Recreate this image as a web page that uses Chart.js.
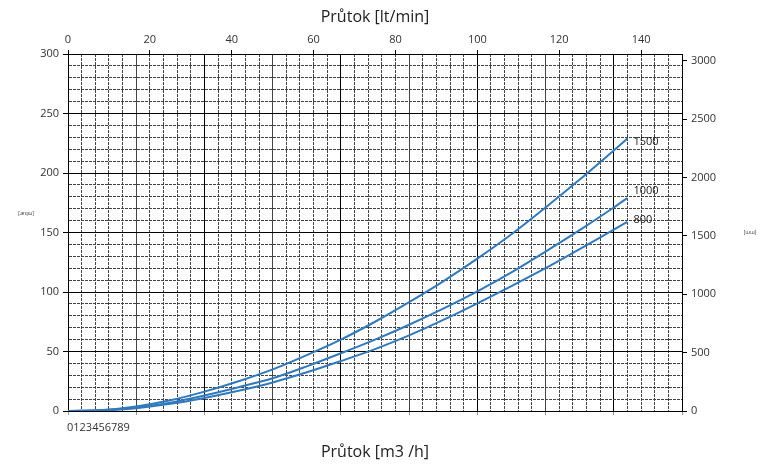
<!DOCTYPE html>
<html>
<head>
<meta charset="utf-8">
<script src="https://cdn.jsdelivr.net/npm/chart.js@4"></script>
<style>
  body { margin: 0; background: #fff; }
  canvas { display: block; }
</style>
</head>
<body>
<canvas id="flowChart" width="767" height="465"></canvas>
<script>
// Průtok v m3/h (spodní osa)
const flowM3h = [0, 0.5, 1, 1.5, 2, 2.5, 3, 3.5, 4, 4.5, 5, 5.5, 6, 6.5, 7, 7.5, 8, 8.2];
// Tlaková ztráta [mbar] pro jednotlivé křivky
const loss1500 = [0, 0.8, 3.8, 9, 16.3, 25, 35, 47, 60, 75, 91.5, 109, 128, 148.5, 171, 194.5, 219, 229];
const loss1000 = [0, 0.6, 3, 7, 13, 20, 27.5, 37.5, 48.5, 60, 72.5, 86, 100.5, 116.5, 134, 152, 171, 179];
const loss800  = [0, 0.4, 2.4, 6, 11, 17, 24, 32.5, 42, 52, 63.5, 76.5, 90.5, 105, 120, 136, 152.5, 159];
const curveLabels = ["1500", "1000", "800"];
const bottomTickLabels = ["0", "1", "2", "3", "4", "5", "6", "7", "8", "9"];
const mmTicks = [0, 500, 1000, 1500, 2000, 2500, 3000];

// Rozsahy os
const M3H_MAX = 9;        // m3/h
const LMIN_MAX = 150;     // lt/min
const MBAR_MAX = 300;     // mbar
const MM_MAX = 3059;      // mm v.s. (300 mbar)

const LINE_COLOR = "#3079bd";
const FONT = "'Open Sans', 'Noto Sans', sans-serif";
const DASH = [3, 1];

function toPoints(ys) {
    return flowM3h.map((x, i) => ({ x: x, y: ys[i] }));
}

function isMultiple(v, step) {
    return Math.abs(v / step - Math.round(v / step)) < 1e-6;
}

// Popisky křivek, slepené popisky spodní osy a názvy svislých os
const extraText = {
    id: "extraText",
    afterDatasetsDraw(chart) {
        const ctx = chart.ctx;
        const area = chart.chartArea;
        const dy = [3, -7, -2];
        ctx.save();
        ctx.fillStyle = "#222";
        ctx.font = "11px " + FONT;
        ctx.textBaseline = "middle";
        ctx.textAlign = "left";
        curveLabels.forEach((lbl, i) => {
            const pts = chart.getDatasetMeta(i).data;
            const last = pts[pts.length - 1];
            ctx.fillText(lbl, last.x + 6, last.y + dy[i]);
        });

        // spodní popisky jsou v originále slepené dohromady
        ctx.fillStyle = "#333";
        ctx.fillText(bottomTickLabels.join(""), area.left - 1, area.bottom + 17);

        // drobné názvy svislých os, otočené vzhůru nohama
        ctx.font = "5px " + FONT;
        ctx.textAlign = "center";
        ctx.save();
        ctx.translate(26, 213);
        ctx.rotate(Math.PI);
        ctx.fillText("[mbar]", 0, 0);
        ctx.restore();
        ctx.save();
        ctx.translate(750, 232);
        ctx.rotate(Math.PI);
        ctx.fillText("[mm]", 0, 0);
        ctx.restore();
        ctx.restore();
    }
};

const ctx = document.getElementById("flowChart");

new Chart(ctx, {
    type: "line",
    data: {
        datasets: [loss1500, loss1000, loss800].map((ys, i) => ({
            label: curveLabels[i],
            data: toPoints(ys),
            borderColor: LINE_COLOR,
            borderWidth: 2,
            pointRadius: 0,
            fill: false,
            cubicInterpolationMode: "monotone",
            xAxisID: "x",
            yAxisID: "y"
        }))
    },
    options: {
        responsive: false,
        animation: false,
        devicePixelRatio: 1,
        layout: { padding: 0 },
        plugins: {
            legend: { display: false },
            tooltip: { enabled: false }
        },
        scales: {
            x: {
                type: "linear",
                position: "bottom",
                min: 0,
                max: M3H_MAX,
                afterFit: (s) => { s.height = 54; },
                ticks: { stepSize: 0.2, display: false, autoSkip: false },
                grid: {
                    lineWidth: 1,
                    color: (c) => (c.tick && isMultiple(c.tick.value, 2)) ? "#000" : "#444",
                    tickLength: 4,
                    tickColor: (c) => (c.tick && isMultiple(c.tick.value, 1)) ? "#999" : "rgba(0,0,0,0)"
                },
                border: {
                    color: "#000",
                    dash: (c) => (c.tick && !isMultiple(c.tick.value, 1)) ? DASH : []
                },
                title: {
                    display: true,
                    text: "Průtok [m3 /h]",
                    color: "#222",
                    font: { family: FONT, size: 16 },
                    padding: { top: 0, bottom: 3 }
                }
            },
            x2: {
                type: "linear",
                position: "top",
                min: 0,
                max: LMIN_MAX,
                afterFit: (s) => { s.height = 54; },
                ticks: {
                    stepSize: 20,
                    includeBounds: false,
                    padding: 4,
                    color: "#333",
                    font: { family: FONT, size: 11 }
                },
                grid: { drawOnChartArea: false, tickLength: 4, tickColor: "#000" },
                border: { color: "#000" },
                title: {
                    display: true,
                    text: "Průtok [lt/min]",
                    color: "#222",
                    font: { family: FONT, size: 16 },
                    padding: { top: 8, bottom: 0 }
                }
            },
            y: {
                type: "linear",
                position: "left",
                min: 0,
                max: MBAR_MAX,
                afterFit: (s) => { s.width = 68; },
                ticks: {
                    stepSize: 10,
                    autoSkip: false,
                    padding: 4,
                    color: "#333",
                    font: { family: FONT, size: 11 },
                    callback: (v) => isMultiple(v, 50) ? String(v) : ""
                },
                grid: {
                    lineWidth: 1,
                    color: (c) => (c.tick && isMultiple(c.tick.value, 50)) ? "#000" : "#444",
                    tickLength: 5,
                    tickColor: (c) => (c.tick && isMultiple(c.tick.value, 50)) ? "#000" : "rgba(0,0,0,0)"
                },
                border: {
                    color: "#000",
                    dash: (c) => (c.tick && !isMultiple(c.tick.value, 50)) ? DASH : []
                }
            },
            y2: {
                type: "linear",
                position: "right",
                min: 0,
                max: MM_MAX,
                afterFit: (s) => { s.width = 85; },
                afterBuildTicks: (s) => { s.ticks = mmTicks.map((v) => ({ value: v })); },
                ticks: {
                    padding: 4,
                    color: "#333",
                    font: { family: FONT, size: 11 },
                    callback: (v) => String(v)
                },
                grid: { drawOnChartArea: false, tickLength: 5, tickColor: "#000" },
                border: { color: "#000" }
            }
        }
    },
    plugins: [extraText]
});
</script>
</body>
</html>
